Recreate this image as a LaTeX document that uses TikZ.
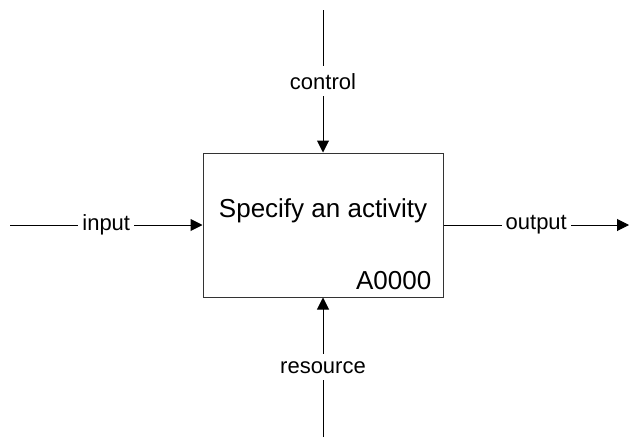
\documentclass[tikz,border=0pt]{standalone}
\usepackage{fontspec}
\setmainfont{Liberation Sans}
\usetikzlibrary{arrows.meta,positioning}
\tikzset{
  >={Triangle[length=12pt,width=12pt]},
  actbox/.style={rectangle, draw=black!80, line width=1pt,
                 minimum width=240pt, minimum height=144pt, inner sep=0pt},
  actname/.style={font=\fontsize{26}{28}\selectfont, inner sep=0pt},
  actid/.style={font=\fontsize{26}{28}\selectfont, inner xsep=12pt, inner ysep=8pt},
  flow/.style={->, draw, line width=1pt},
  lbl/.style={font=\fontsize{22}{24}\selectfont, fill=white,
              inner xsep=4pt, inner ysep=7pt},
}
\begin{document}
\begin{tikzpicture}[x=1pt,y=-1pt]
\useasboundingbox (0,0) rectangle (629,439);
% the activity box
\node[actbox] (act) at (323,225) {};
\node[actname] (name) at ([yshift=14pt]act.center) {Specify an activity};
\node[actid, anchor=south east] (id) at (act.south east) {A0000};
% free ends of the four arrows
\coordinate (inp) at (10,225);
\coordinate (outp) at (629,225);
\coordinate (ctl) at (323,10);
\coordinate (res) at (323,437);
\draw[flow] (inp) -- node[lbl] (inlbl) {input} (act.west);
\draw[flow] (act.east) -- node[lbl] (outlbl) {output} (outp);
\draw[flow] (ctl) -- node[lbl] (ctllbl) {control} (act.north);
\draw[flow] (res) -- node[lbl] (reslbl) {resource} (act.south);
\end{tikzpicture}
\end{document}
